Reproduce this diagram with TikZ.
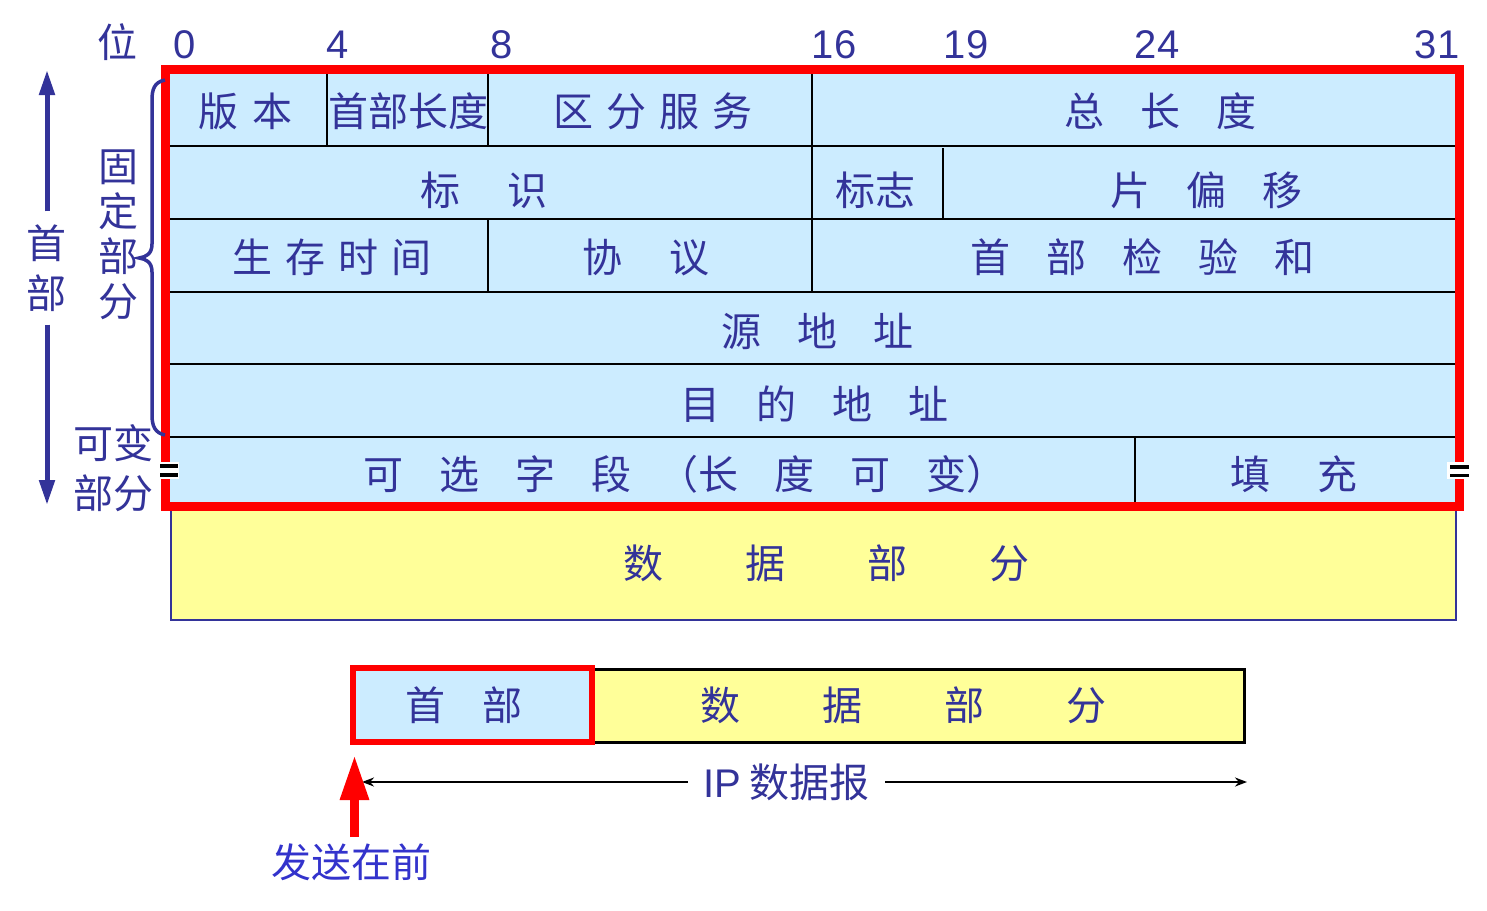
\documentclass[tikz,border=0pt]{standalone}
\usepackage{fontspec}
\setmainfont{Liberation Sans}
\newfontfamily\cjk{Noto Sans CJK SC}
\newfontfamily\latin{Liberation Sans}
\usetikzlibrary{arrows.meta}
\definecolor{navy}{RGB}{51,51,153}
\definecolor{sendblue}{RGB}{51,51,204}
\definecolor{cellblue}{RGB}{204,236,255}
\definecolor{datayellow}{RGB}{255,255,153}
\newcommand\gS{\hspace{13pt}}
\newcommand\gM{\hspace{36pt}}
\newcommand\gL{\hspace{47pt}}
\newcommand\gX{\hspace{82pt}}
\begin{document}
\begin{tikzpicture}[x=1pt,y=-1pt,
  lbl/.style={font=\cjk\fontsize{40}{50}\selectfont, text=navy, inner sep=0pt, text height=35pt, text depth=4.6pt},
  lblv/.style={font=\cjk\fontsize{40}{50}\selectfont, text=navy, inner sep=0pt, align=center},
  num/.style={font=\latin\fontsize{40}{50}\selectfont, text=navy, inner sep=0pt, text height=28.6pt, text depth=0pt},
  gridline/.style={line width=2.5pt, black},
  boxnode/.style={draw, inner sep=0pt},
  bluearrow/.style={navy, line width=5pt, -{Triangle[length=25pt,width=15pt]}},
  redarrow/.style={red, line width=9pt, -{Triangle[length=45pt,width=27pt]}},
  dimarrow/.style={black, line width=2pt, {Stealth[length=12pt,width=9pt]}-{Stealth[length=12pt,width=9pt]}}
]
\useasboundingbox (0,0) rectangle (1487,910);

% header background
\fill[cellblue] (170,70) rectangle (1456,504);
% data part
\draw[navy, line width=2pt, fill=datayellow] (171,507) rectangle (1456,620);

% grid lines
\foreach \yy in {146,219,292,364,437}
  \draw[gridline] (170,\yy) -- (1456,\yy);
\draw[gridline] (327,70) -- (327,146);
\draw[gridline] (488,70) -- (488,146);
\draw[gridline] (812,70) -- (812,146);
\draw[gridline] (812,146) -- (812,219);
\draw[gridline] (943,148) -- (943,219);
\draw[gridline] (488,219) -- (488,292);
\draw[gridline] (812,219) -- (812,292);
\draw[gridline] (1135,437) -- (1135,504);

% field texts
\node[lbl] (ver) at (245.5,111) {版\hspace{14pt}本};
\node[lbl] (ihl) at (408,111) {首部长度};
\node[lbl] (tos) at (652.5,111) {区\gS 分\gS 服\gS 务};
\node[lbl] (tlen) at (1160,111) {总\gM 长\gM 度};
\node[lbl] (ident) at (483.5,190) {标\gL 识};
\node[lbl] (flags) at (875,190) {标志};
\node[lbl] (frag) at (1206,190) {片\gM 偏\gM 移};
\node[lbl] (ttl) at (331.5,257) {生\gS 存\gS 时\gS 间};
\node[lbl] (proto) at (645.5,257) {协\gL 议};
\node[lbl] (csum) at (1142,257) {首\gM 部\gM 检\gM 验\gM 和};
\node[lbl] (src) at (817.5,331) {源\gM 地\gM 址};
\node[lbl] (dst) at (814,404) {目\gM 的\gM 地\gM 址};
\node[lbl, anchor=west] (opt) at (363,474) {可\gM 选\gM 字\gM 段\hspace{27pt}（长\gM 度\gM 可\gM 变）};
\node[lbl] (pad) at (1293.5,474) {填\gL 充};
\node[lbl] (data) at (826.5,563) {数\gX 据\gX 部\gX 分};

% red frame around header
\draw[red, line width=9pt] (165.5,69.5) rectangle (1459.5,506.5);

% break marks
\fill[white] (159,462) rectangle (179,479);
\fill[black] (160,464) rectangle (178,468);
\fill[black] (160,473) rectangle (178,477);
\fill[white] (1447,462) rectangle (1470,479);
\fill[black] (1450,465) rectangle (1469,469);
\fill[black] (1450,474) rectangle (1469,477);

% bit positions
\node[lbl] (wei) at (117,42) {位};
\node[num] (b0) at (185,44) {0};
\node[num] (b4) at (338,44) {4};
\node[num] (b8) at (502,44) {8};
\node[num] (b16) at (834,44) {16};
\node[num] (b19) at (966,44) {19};
\node[num] (b24) at (1157,44) {24};
\node[num] (b31) at (1437,44) {31};

% left labels
\node[lblv, inner ysep=13pt] (hdrside) at (47,268) {首\\部};
\coordinate (hAtop) at (47,70);
\coordinate (hAbot) at (47,505);
\draw[bluearrow] (hdrside.north) -- (hAtop);
\draw[bluearrow] (hdrside.south) -- (hAbot);
\node[lblv, font=\cjk\fontsize{40}{45}\selectfont] (fixed) at (118,235) {固\\定\\部\\分};
\node[lblv] (var) at (113,468) {可变\\部分};
\draw[navy, line width=3.5pt] (165,80) .. controls (154,82) and (152,90) .. (152,100) -- (152,244)
  .. controls (152,254) and (146,257) .. (139,258) .. controls (146,259) and (152,262) .. (152,272)
  -- (152,415) .. controls (152,426) and (155,433) .. (165,435);

% bottom datagram
\node[boxnode, line width=3pt, fill=datayellow, minimum width=652pt, minimum height=73pt] (dbox) at (918,705.5) {};
\node[boxnode, draw=red, line width=6.5pt, fill=cellblue, minimum width=239pt, minimum height=74pt] (hbox) at (472.5,705) {};
\node[lbl] (hdrtxt) at (463.5,705) {首\hspace{37pt}部};
\node[lbl] (pdata) at (903,705) {数\gX 据\gX 部\gX 分};

\coordinate (dgL) at (362,782);
\coordinate (dgR) at (1247,782);
\draw[dimarrow] (dgL) -- (dgR);
\node[lbl, fill=white, inner xsep=15pt] (ipd) at (786.5,782) {{\latin IP} 数据报};

\node[lbl, text=sendblue] (send) at (351,862) {发送在前};
\coordinate (sendtip) at (354.5,755);
\draw[redarrow, shorten <=5pt] (send.north -| sendtip) -- (sendtip);
\end{tikzpicture}
\end{document}
